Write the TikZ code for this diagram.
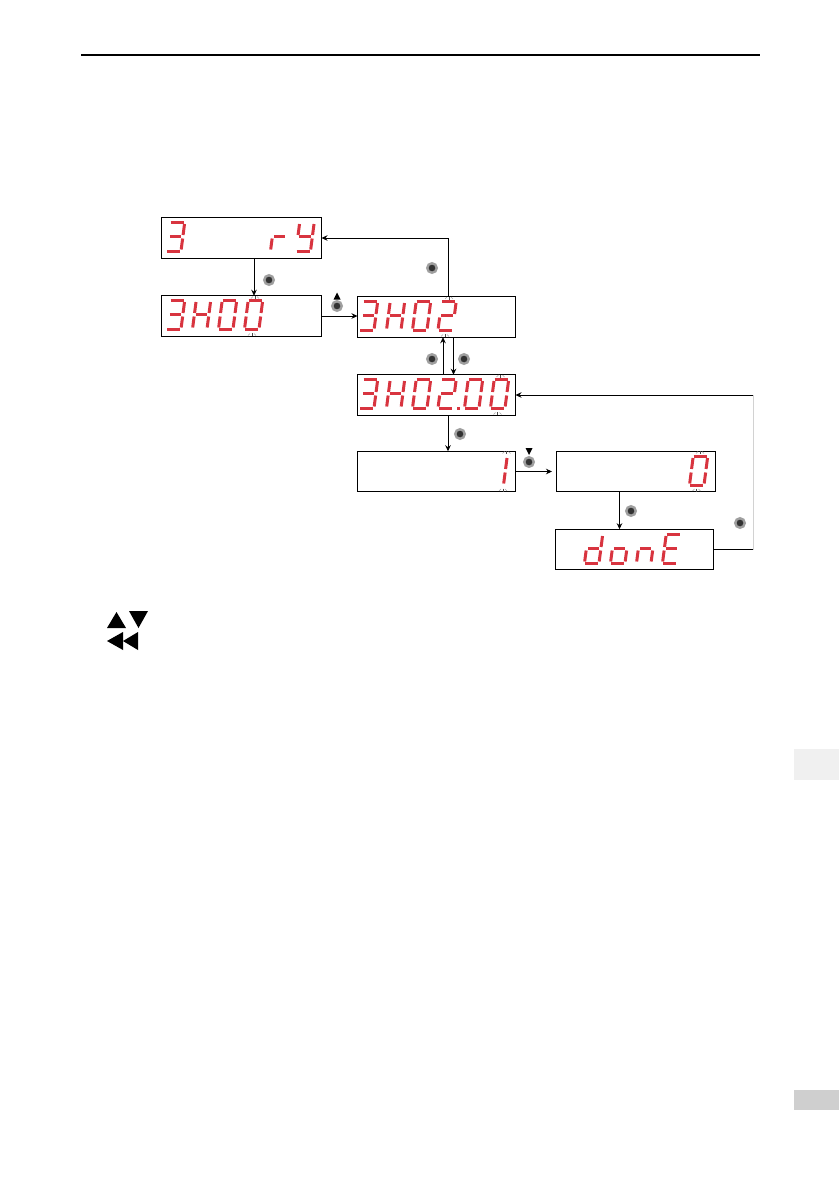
\documentclass[tikz,border=0pt]{standalone}
\usepackage{xcolor}
\usetikzlibrary{arrows.meta, positioning}
\definecolor{segred}{HTML}{D8343F}

\tikzset{
  panel/.style={draw, line width=0.9pt, minimum width=#1, minimum height=40.5pt, inner sep=0pt, outer sep=0pt},
  flow/.style={line width=0.8pt, -{Stealth[length=6pt,width=5.5pt]}},
  plainflow/.style={line width=0.8pt},
  keybtn/.style={circle, draw=gray!75, line width=2.4pt, fill=black!80, minimum size=9.5pt, inner sep=0pt},
  segline/.style={segred, line width=3pt},
  blink/.style={black!70, line width=0.5pt}
}

% one segment each
\newcommand{\sega}{\draw[segline] (0.5,-28.5)--(13.5,-28.5);}
\newcommand{\segb}{\draw[segline] (14.5,-27)--(14.5,-16);}
\newcommand{\segc}{\draw[segline] (14.5,-12.5)--(14.5,-1.5);}
\newcommand{\segd}{\draw[segline] (0.5,0)--(13.5,0);}
\newcommand{\sege}{\draw[segline] (0,-12.5)--(0,-1.5);}
\newcommand{\segf}{\draw[segline] (0,-27)--(0,-16);}
\newcommand{\segg}{\draw[segline] (1.5,-14.2)--(13,-14.2);}
\newcommand{\segdigit}[3]{\begin{scope}[shift={(#1,#2)}, xslant=0.13]
  \foreach \s in {#3} {\csname seg\s\endcsname}
\end{scope}}
\newcommand{\blinkmark}[2]{\begin{scope}[shift={(#1,#2)}]
  \draw[blink] (0,-1.5)--(0,1.5);
  \draw[blink, gray!70] (-2,-1)--(-4,1) (2,-1)--(4,1);
\end{scope}}

\begin{document}
\begin{tikzpicture}[x=1pt, y=-1pt]
\useasboundingbox (0,0) rectangle (839,1191);

% page furniture
\draw[line width=1.3pt] (81,55) -- (760,55);
\fill[black!6] (794,749) rectangle (839,780);
\fill[black!19] (794,1090) rectangle (839,1110);

% panels
\node[panel=160pt] (panelRy) at (241.5,238) {};
\node[panel=160pt] (panelA) at (241.5,316) {};
\node[panel=158pt] (panelB) at (436.5,317) {};
\node[panel=158pt] (panelC) at (436.5,395) {};
\node[panel=158pt] (panelD) at (436.5,471.5) {};
\node[panel=159pt] (panelE) at (635.5,471.5) {};
\node[panel=158.5pt] (panelDone) at (634.5,549.5) {};

% display digits
\segdigit{166.5}{251}{a,b,g,c,d}
\segdigit{270.5}{251}{e,g}
\segdigit{296}{251}{f,b,g,c,d}

\segdigit{166.5}{329}{a,b,g,c,d}
\segdigit{192.5}{329}{b,c,e,f,g}
\segdigit{218.5}{329}{a,b,c,d,e,f}
\segdigit{244.5}{329}{a,b,c,d,e,f}

\segdigit{359.5}{330}{a,b,g,c,d}
\segdigit{386.5}{330}{b,c,e,f,g}
\segdigit{412.5}{330}{a,b,c,d,e,f}
\segdigit{438}{330}{a,b,g,e,d}

\segdigit{359.5}{408}{a,b,g,c,d}
\segdigit{386.5}{408}{b,c,e,f,g}
\segdigit{412.5}{408}{a,b,c,d,e,f}
\segdigit{438}{408}{a,b,g,e,d}
\fill[segred] (456.5,406.5) rectangle ++(3,3);
\segdigit{464.5}{408}{a,b,c,d,e,f}
\segdigit{490.5}{408}{a,b,c,d,e,f}

\segdigit{489}{485}{b,c}
\segdigit{689.5}{485}{a,b,c,d,e,f}

\segdigit{584.5}{563}{b,c,d,e,g}
\segdigit{610.5}{563}{c,d,e,g}
\segdigit{636.5}{563}{c,e,g}
\segdigit{662.5}{563}{a,f,g,e,d}

% blink ticks
\blinkmark{255}{297.5}
\blinkmark{252}{334.5}
\blinkmark{449}{298}
\blinkmark{445}{335.5}
\blinkmark{500.5}{376}
\blinkmark{497.5}{413.5}
\blinkmark{506.5}{452.5}
\blinkmark{503}{490}
\blinkmark{700}{452.5}
\blinkmark{696.5}{490}

% connectors
\draw[flow] ([xshift=12.5pt]panelRy.south) -- ([xshift=12.5pt]panelA.north);
\draw[flow] (panelA.east) -- (panelA.east -| panelB.west);
\draw[flow] ([xshift=11.5pt]panelB.north) |- (panelRy.east);
\draw[flow] ([xshift=6.5pt]panelC.north) -- ([xshift=6.5pt]panelB.south);
\draw[flow] ([xshift=17pt]panelB.south) -- ([xshift=17pt]panelC.north);
\draw[flow] ([xshift=11.5pt]panelC.south) -- ([xshift=11.5pt]panelD.north);
\draw[flow, shorten >=4pt] (panelD.east) -- (panelE.west);
\draw[flow] ([xshift=-16pt]panelE.south) -- ([xshift=-15pt]panelDone.north);

% loop back, right side
\coordinate (loopLow) at (753,549.5);
\coordinate (loopTop) at (753,395);
\draw[plainflow] (panelDone.east) -- (loopLow);
\draw[gray!35, line width=0.8pt] (loopLow) -- (loopTop);
\draw[flow] (loopTop) -- (panelC.east);

% keys
\node[keybtn] (keyEnter) at (269,280) {};
\node[keybtn] (keyUp) at (337,306) {};
\node[keybtn] (keyBack) at (432,268) {};
\node[keybtn] (keyBackB) at (432,359) {};
\node[keybtn] (keyInto) at (464,359) {};
\node[keybtn] (keyInner) at (460,434) {};
\node[keybtn] (keyDown) at (529,462) {};
\node[keybtn] (keySet) at (631,511) {};
\node[keybtn] (keyDone) at (740,523) {};
\fill (333.5,299.5) -- (340.5,299.5) -- (337,292.5) -- cycle;
\fill (525.5,448) -- (532.5,448) -- (529,455) -- cycle;

% legend triangles
\fill (107,628) -- (126,628) -- (116.5,612) -- cycle;
\fill (129,611) -- (148,611) -- (138.5,628) -- cycle;
\fill (123,632) -- (123,650) -- (107,641) -- cycle;
\fill (138,632) -- (138,650) -- (123,641) -- cycle;

\end{tikzpicture}
\end{document}
